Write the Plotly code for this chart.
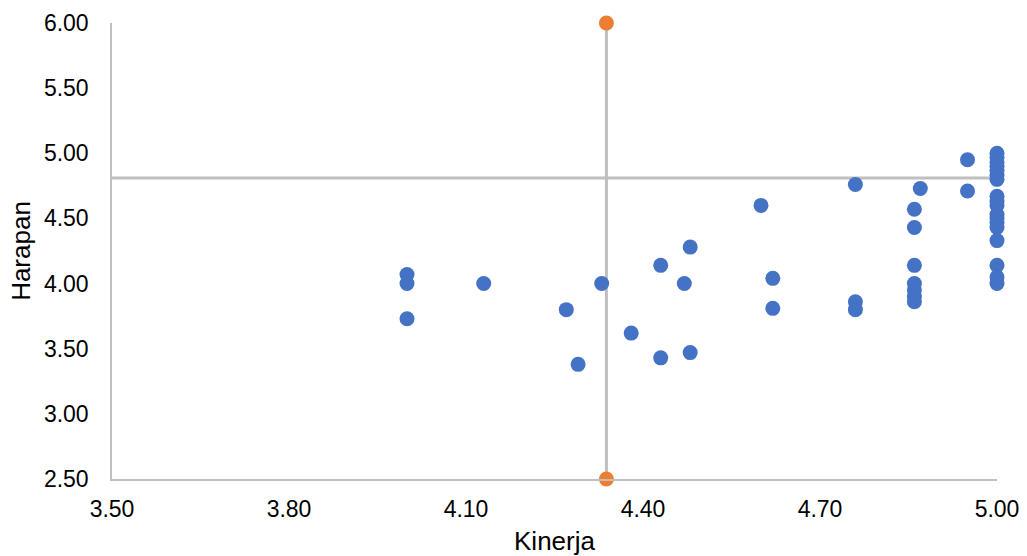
import plotly.graph_objects as go

# Data
kinerja = [4.00, 4.00, 4.00,
           4.13,
           4.27,
           4.29,
           4.33,
           4.38,
           4.43, 4.43,
           4.47,
           4.48, 4.48,
           4.60,
           4.62, 4.62,
           4.76, 4.76, 4.76,
           4.86, 4.86, 4.86, 4.86, 4.86, 4.86, 4.86,
           4.87,
           4.95, 4.95,
           5.00, 5.00, 5.00, 5.00, 5.00, 5.00, 5.00, 5.00, 5.00, 5.00,
           5.00, 5.00, 5.00, 5.00, 5.00, 5.00, 5.00, 5.00]
harapan = [4.07, 4.00, 3.73,
           4.00,
           3.80,
           3.38,
           4.00,
           3.62,
           4.14, 3.43,
           4.00,
           4.28, 3.47,
           4.60,
           4.04, 3.81,
           4.76, 3.86, 3.80,
           4.57, 4.43, 4.14, 4.00, 3.95, 3.90, 3.86,
           4.73,
           4.95, 4.71,
           5.00, 4.97, 4.93, 4.90, 4.87, 4.83, 4.80, 4.67, 4.63, 4.60,
           4.53, 4.50, 4.47, 4.43, 4.33, 4.14, 4.05, 4.00]

# Mean lines
mean_x_line_x = [4.338, 4.338]
mean_x_line_y = [2.50, 6.00]
mean_y_line_x = [3.50, 5.00]
mean_y_line_y = [4.81, 4.81]

x_ticks = [3.50, 3.80, 4.10, 4.40, 4.70, 5.00]
y_ticks = [2.50, 3.00, 3.50, 4.00, 4.50, 5.00, 5.50, 6.00]

BLUE = "#4472C4"
ORANGE = "#ED7D31"
GRAY = "#BFBFBF"
FONT = "Liberation Sans, Arial, sans-serif"

fig = go.Figure()

fig.add_trace(go.Scatter(x=mean_y_line_x, y=mean_y_line_y, mode="lines",
                         line=dict(color=GRAY, width=3), cliponaxis=False,
                         hoverinfo="skip", showlegend=False))
fig.add_trace(go.Scatter(x=mean_x_line_x, y=mean_x_line_y, mode="lines",
                         line=dict(color=GRAY, width=3), cliponaxis=False,
                         hoverinfo="skip", showlegend=False))
fig.add_trace(go.Scatter(x=kinerja, y=harapan, mode="markers",
                         marker=dict(color=BLUE, size=15, line=dict(width=0)),
                         cliponaxis=False, showlegend=False))
fig.add_trace(go.Scatter(x=mean_x_line_x, y=mean_x_line_y, mode="markers",
                         marker=dict(color=ORANGE, size=15, line=dict(width=0)),
                         cliponaxis=False, showlegend=False))

fig.update_layout(
    width=1027, height=556,
    margin=dict(l=112, r=30, t=23, b=77),
    paper_bgcolor="white", plot_bgcolor="white",
    font=dict(family=FONT, size=23, color="#000000"),
    showlegend=False,
)
fig.update_xaxes(
    range=[3.5, 5.0], tickvals=x_ticks, ticktext=[f"{v:.2f}" for v in x_ticks],
    showgrid=False, zeroline=False, showline=True, linecolor=GRAY, linewidth=1.5,
    ticks="", ticklabelstandoff=9,
    title=dict(text="Kinerja", font=dict(size=26), standoff=12),
    automargin=False,
)
fig.update_yaxes(
    range=[2.5, 6.0], tickvals=y_ticks, ticktext=[f"{v:.2f}" for v in y_ticks],
    showgrid=False, zeroline=False, showline=True, linecolor=GRAY, linewidth=1.5,
    ticks="", ticklabelstandoff=17,
    title=dict(text="Harapan", font=dict(size=26), standoff=6),
    automargin=False,
)

fig.write_html("out.html")
